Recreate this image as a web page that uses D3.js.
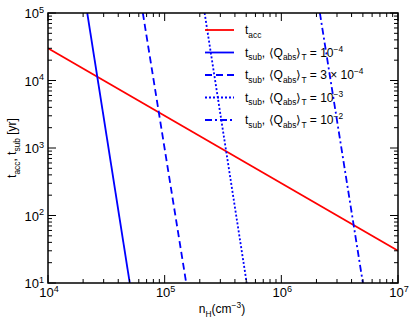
<!DOCTYPE html>
<html>
<head>
<meta charset="utf-8">
<script src="https://cdn.jsdelivr.net/npm/d3@7"></script>
<style>
  body { margin: 0; background: #fff; }
  text { font-family: "Liberation Sans", Arial, sans-serif; fill: #000; }
</style>
</head>
<body>
<svg id="chart" width="415" height="326"></svg>
<script>
// accretion time t_acc vs n_H
const accDensity = [1e4, 1e7];
const accTime = [3e4, 30];

// sublimation time, one line per <Q_abs>_T value
const subLabels = ['10', '3 \u00d7 10', '10', '10'];
const subExps = ['\u22124', '\u22124', '\u22123', '\u22122'];
const subDensity = [[2.17e4, 5.02e4], [6.5e4, 1.53e5], [2.2e5, 5.05e5], [2.14e6, 5.0e6]];
const subTime = [1e5, 10];
const subDash = [null, '7,4', '2,2', '7,3,2,3'];

const xDomain = [1e4, 1e7];
const yDomain = [10, 1e5];

const margin = { left: 48, right: 17, top: 13, bottom: 43 };
const W = 415, H = 326;
const svg = d3.select('svg#chart');
const x = d3.scaleLog().domain(xDomain).range([margin.left, W - margin.right]);
const y = d3.scaleLog().domain(yDomain).range([H - margin.bottom, margin.top]);
const x0 = x.range()[0], x1 = x.range()[1];
const y0 = y.range()[0], y1 = y.range()[1];

// rich text helper: parts = [[str, 'n'|'sub'|'sup', size]]
const rich = (sel, parts, base) => {
  let off = 0;
  parts.forEach(([s, kind]) => {
    const target = kind === 'sub' ? base * 0.3 : kind === 'sup' ? -base * 0.4 : 0;
    sel.append('tspan')
      .attr('dy', target - off)
      .style('font-size', (kind === 'n' ? base : base * 0.7) + 'px')
      .text(s);
    off = target;
  });
};

svg.append('clipPath').attr('id', 'clip')
  .append('rect').attr('x', x0).attr('y', y1).attr('width', x1 - x0).attr('height', y0 - y1);

const line = d3.line().x(d => x(d[0])).y(d => y(d[1]));
const plot = svg.append('g').attr('clip-path', 'url(#clip)');

plot.append('path')
  .attr('d', line(accDensity.map((n, i) => [n, accTime[i]])))
  .attr('fill', 'none').attr('stroke', '#ff0000').attr('stroke-width', 1.8);

subDensity.forEach((ns, k) => {
  plot.append('path')
    .attr('d', line(ns.map((n, i) => [n, subTime[i]])))
    .attr('fill', 'none').attr('stroke', '#0000ff').attr('stroke-width', 1.8)
    .attr('stroke-dasharray', subDash[k]);
});

// ticks on all four sides, pointing in
const ax = svg.append('g').attr('stroke', '#000').attr('stroke-width', 1);
const isMajor = v => Math.abs(Math.log10(v) - Math.round(Math.log10(v))) < 1e-6;
x.ticks().forEach(v => {
  const L = isMajor(v) ? 8 : 4;
  ax.append('line').attr('x1', x(v)).attr('x2', x(v)).attr('y1', y0).attr('y2', y0 - L);
  ax.append('line').attr('x1', x(v)).attr('x2', x(v)).attr('y1', y1).attr('y2', y1 + L);
});
y.ticks().forEach(v => {
  const L = isMajor(v) ? 8 : 4;
  ax.append('line').attr('y1', y(v)).attr('y2', y(v)).attr('x1', x0).attr('x2', x0 + L);
  ax.append('line').attr('y1', y(v)).attr('y2', y(v)).attr('x1', x1).attr('x2', x1 - L);
});
svg.append('rect')
  .attr('x', x0).attr('y', y1).attr('width', x1 - x0).attr('height', y0 - y1)
  .attr('fill', 'none').attr('stroke', '#000').attr('stroke-width', 1.5);

// tick labels
x.ticks().filter(isMajor).forEach(v => {
  const t = svg.append('text').attr('x', x(v) + 1).attr('y', y0 + 14).attr('text-anchor', 'middle');
  rich(t, [['10', 'n'], [String(Math.round(Math.log10(v))), 'sup']], 13);
});
y.ticks().filter(isMajor).forEach(v => {
  const t = svg.append('text').attr('x', x0 - 4).attr('y', y(v) + 5).attr('text-anchor', 'end');
  rich(t, [['10', 'n'], [String(Math.round(Math.log10(v))), 'sup']], 13);
});

// axis titles
const xt = svg.append('text').attr('x', 222).attr('y', 313).attr('text-anchor', 'middle');
rich(xt, [['n', 'n'], ['H', 'sub'], ['(cm', 'n'], ['\u22123', 'sup'], [')', 'n']], 12);

const yt = svg.append('text').attr('transform', 'translate(16,148) rotate(-90)').attr('text-anchor', 'middle');
rich(yt, [['t', 'n'], ['acc', 'sub'], [', t', 'n'], ['sub', 'sub'], [' [yr]', 'n']], 12);

// legend
const legY = [30, 52.5, 75, 97.5, 120];
const leg = svg.append('g');
leg.append('line').attr('x1', 205).attr('x2', 234).attr('y1', legY[0]).attr('y2', legY[0])
  .attr('stroke', '#ff0000').attr('stroke-width', 1.8);
rich(leg.append('text').attr('x', 245).attr('y', legY[0] + 4), [['t', 'n'], ['acc', 'sub']], 12);
subLabels.forEach((lab, k) => {
  const yy = legY[k + 1];
  leg.append('line').attr('x1', 205).attr('x2', 234).attr('y1', yy).attr('y2', yy)
    .attr('stroke', '#0000ff').attr('stroke-width', 1.8).attr('stroke-dasharray', subDash[k]);
  rich(leg.append('text').attr('x', 245).attr('y', yy + 4), [
    ['t', 'n'], ['sub', 'sub'], [', \u27e8Q', 'n'], ['abs', 'sub'], ['\u27e9', 'n'], ['T', 'sub'],
    [' = ' + lab, 'n'], [subExps[k], 'sup']
  ], 12);
});
</script>
</body>
</html>
